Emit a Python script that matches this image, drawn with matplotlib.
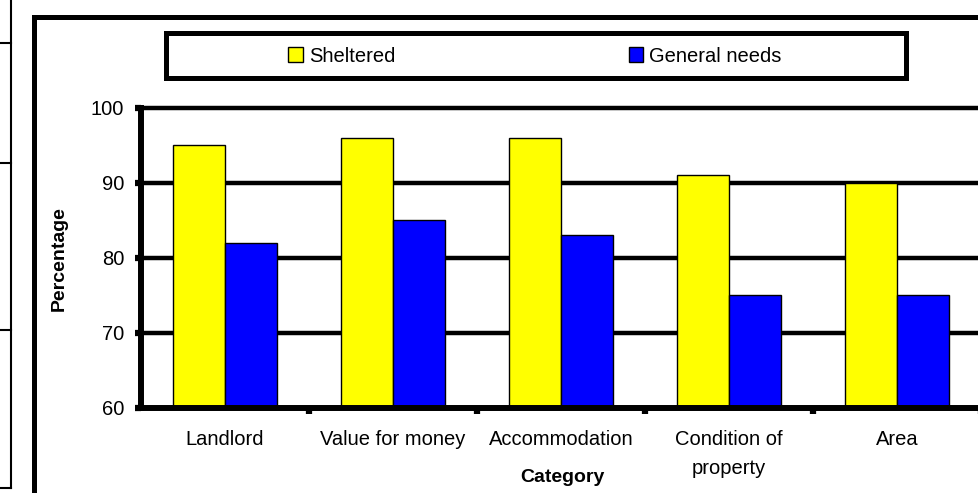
import numpy as np
import matplotlib
matplotlib.use('Agg')
import matplotlib.pyplot as plt
from matplotlib.lines import Line2D
from matplotlib.patches import Rectangle, Patch

plt.rcParams['font.family'] = ['Liberation Sans', 'DejaVu Sans']

# data
categories = ['Landlord', 'Value for money', 'Accommodation', 'Condition of\nproperty', 'Area']
sheltered = [95, 96, 96, 91, 90]
general_needs = [82, 85, 83, 75, 75]
y_ticks = [60, 70, 80, 90, 100]

W, H = 979, 493
fig = plt.figure(figsize=(W / 100, H / 100), dpi=100)

def fx(px):
    return px / W

def fy(py):
    return 1 - py / H

# axes placed in pixels
ax = fig.add_axes([fx(141), fy(407.5), fx(840), fy(107.5) - fy(407.5)])

x = np.arange(len(categories))
bw = 0.31
ax.bar(x - bw / 2, np.array(sheltered) - 60, bw, bottom=60, color='#ffff00',
       edgecolor='black', linewidth=1.0, zorder=3)
ax.bar(x + bw / 2, np.array(general_needs) - 60, bw, bottom=60, color='#0000ff',
       edgecolor='black', linewidth=1.0, zorder=3)

ax.set_xlim(-0.5, len(categories) - 0.5)
ax.set_ylim(60, 100)
ax.set_yticks(y_ticks)
ax.yaxis.grid(True, color='black', linewidth=3.2, zorder=1)
for gl in ax.get_ygridlines():
    gl.set_clip_on(False)
ax.set_axisbelow(True)

for s in ['top', 'right']:
    ax.spines[s].set_visible(False)
ax.spines['left'].set_linewidth(4.3)
ax.spines['bottom'].set_linewidth(4.3)
ax.spines['left'].set_zorder(4)
ax.spines['bottom'].set_zorder(4)

# labels at centres, dot ticks at category boundaries
ax.set_xticks(x)
ax.set_xticklabels(categories, fontsize=14.5, linespacing=1.7)
ax.tick_params(axis='x', which='major', length=0, pad=16)
ax.set_xticks(np.arange(len(categories)) + 0.5, minor=True)
ax.tick_params(axis='x', which='minor', length=4, width=4.5, color='black')
ax.tick_params(axis='y', length=4, width=4.5, pad=8, labelsize=14.5)

fig.text(fx(59), fy(259), 'Percentage', fontsize=14, fontweight='bold',
         rotation=90, ha='center', va='center')
fig.text(fx(562), fy(478), 'Category', fontsize=14, fontweight='bold',
         ha='center', va='center')

# legend box
fig.add_artist(Rectangle((fx(165.5), fy(77.5)), fx(740), fy(33.5) - fy(77.5),
                         transform=fig.transFigure, fill=False, edgecolor='black', linewidth=3.6))
handles = [Patch(facecolor='#ffff00', edgecolor='black', linewidth=1),
           Patch(facecolor='#0000ff', edgecolor='black', linewidth=1)]
fig.legend(handles, ['Sheltered', 'General needs'], ncol=2, frameon=False,
           loc='center', bbox_to_anchor=(fx(535), fy(56)), bbox_transform=fig.transFigure,
           fontsize=14.5, handlelength=0.72, handleheight=0.72, handletextpad=0.3,
           columnspacing=11.6)

# outer chart frame (cut off on right and bottom)
fig.add_artist(Line2D([fx(33.5), fx(33.5)], [fy(H + 5), fy(16.5)], transform=fig.transFigure,
                      color='black', linewidth=3.6, solid_capstyle='projecting'))
fig.add_artist(Line2D([fx(33.5), fx(W + 5)], [fy(16.5), fy(16.5)], transform=fig.transFigure,
                      color='black', linewidth=3.6, solid_capstyle='projecting'))

# thin strip on the far left
fig.add_artist(Line2D([fx(11), fx(11)], [fy(-2), fy(488)], transform=fig.transFigure,
                      color='black', linewidth=1.5))
for yy in [43, 163, 330, 488]:
    fig.add_artist(Line2D([fx(-2), fx(11)], [fy(yy), fy(yy)], transform=fig.transFigure,
                          color='black', linewidth=1.5))

fig.savefig('out.png', dpi=100)
